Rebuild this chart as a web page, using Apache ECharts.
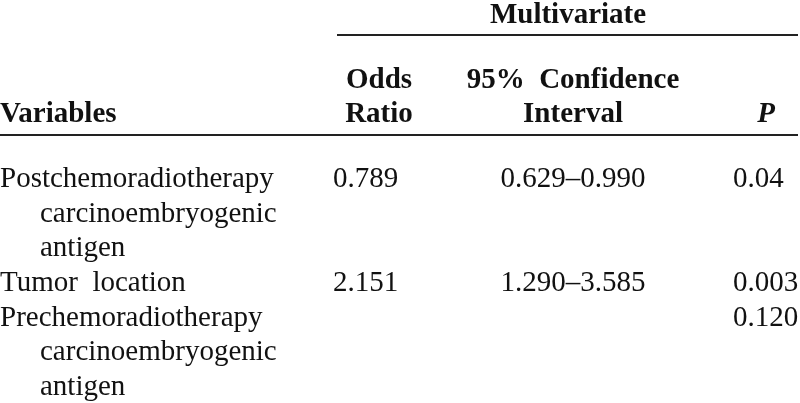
<!DOCTYPE html>
<html><head><meta charset="utf-8">
<script src="https://cdn.jsdelivr.net/npm/echarts@6/dist/echarts.min.js"></script>
<style>html,body{margin:0;padding:0;background:#fff}#c{width:800px;height:403px}</style>
</head><body><div id="c"></div>
<script>
// ---- data ----
const groupTitle = "Multivariate";
const headerVariables = ["Variables"];
const headerOdds = ["Odds", "Ratio"];
const headerCI = ["95%  Confidence", "Interval"];
const headerP = ["P"];
const variables = [
  ["Postchemoradiotherapy", "carcinoembryogenic", "antigen"],
  ["Tumor  location"],
  ["Prechemoradiotherapy", "carcinoembryogenic", "antigen"]
];
const oddsRatio = ["0.789", "2.151", ""];
const ciLower = ["0.629", "1.290", ""];
const ciUpper = ["0.990", "3.585", ""];
const pValues = ["0.04", "0.003", "0.120"];

// ---- layout ----
const FONT_FAMILY = '"Liberation Serif","Times New Roman",serif';
const FONT_SIZE = 29;
const TEXT_COLOR = '#111111';
const BASE_OFFSET = 6.5; // baseline -> middle
const colVarX = 0, colVarIndent = 40;
const colOddsHeadX = 379, colOddsX = 333;
const colCIX = 573;
const colPHeadX = 766, colPX = 733;
const titleX = 568, titleBaseline = 22;
const headBaselines = [87, 121];
const bodyFirst = 186, bodyStep = 34.6;
const rules = [[337, 798, 35], [0, 798, 135]];

const cells = [];
function cell(x, base, text, align, weight, style) {
  cells.push({ value: [x, base - BASE_OFFSET], text: text, align: align, weight: weight, style: style || 'normal' });
}
cell(titleX, titleBaseline, groupTitle, 'center', 'bold');
cell(colVarX, headBaselines[1], headerVariables[0], 'left', 'bold');
headerOdds.forEach((t, i) => cell(colOddsHeadX, headBaselines[i], t, 'center', 'bold'));
headerCI.forEach((t, i) => cell(colCIX, headBaselines[i], t, 'center', 'bold'));
cell(colPHeadX, headBaselines[1], headerP[0], 'center', 'bold', 'italic');

let line = 0;
variables.forEach((lines, r) => {
  const base = bodyFirst + line * bodyStep;
  lines.forEach((t, j) => cell(j === 0 ? colVarX : colVarIndent, base + j * bodyStep, t, 'left', 'normal'));
  if (oddsRatio[r]) cell(colOddsX, base, oddsRatio[r], 'left', 'normal');
  if (ciLower[r]) cell(colCIX, base, ciLower[r] + '\u2013' + ciUpper[r], 'center', 'normal');
  if (pValues[r]) cell(colPX, base, pValues[r], 'left', 'normal');
  line += lines.length;
});

const chart = echarts.init(document.getElementById('c'), null, { renderer: 'canvas' });
chart.setOption({
  backgroundColor: '#ffffff',
  animation: false,
  grid: { left: 0, right: 0, top: 0, bottom: 0 },
  xAxis: { type: 'value', min: 0, max: 800, show: false },
  yAxis: { type: 'value', min: 0, max: 403, inverse: true, show: false },
  series: [
    {
      type: 'custom',
      data: rules,
      renderItem: function (params, api) {
        const a = api.coord([api.value(0), api.value(2)]);
        const b = api.coord([api.value(1), api.value(2)]);
        return { type: 'line', shape: { x1: a[0], y1: a[1], x2: b[0], y2: b[1] }, style: { stroke: '#222', lineWidth: 2 } };
      }
    },
    {
      type: 'custom',
      data: cells.map(c => c.value),
      renderItem: function (params, api) {
        const c = cells[params.dataIndex];
        const p = api.coord([api.value(0), api.value(1)]);
        return {
          type: 'text', x: p[0], y: p[1],
          style: {
            text: c.text,
            fill: TEXT_COLOR,
            font: c.style + ' ' + c.weight + ' ' + FONT_SIZE + 'px ' + FONT_FAMILY,
            align: c.align, textAlign: c.align,
            verticalAlign: 'middle', textVerticalAlign: 'middle'
          }
        };
      }
    }
  ]
});
</script></body></html>
